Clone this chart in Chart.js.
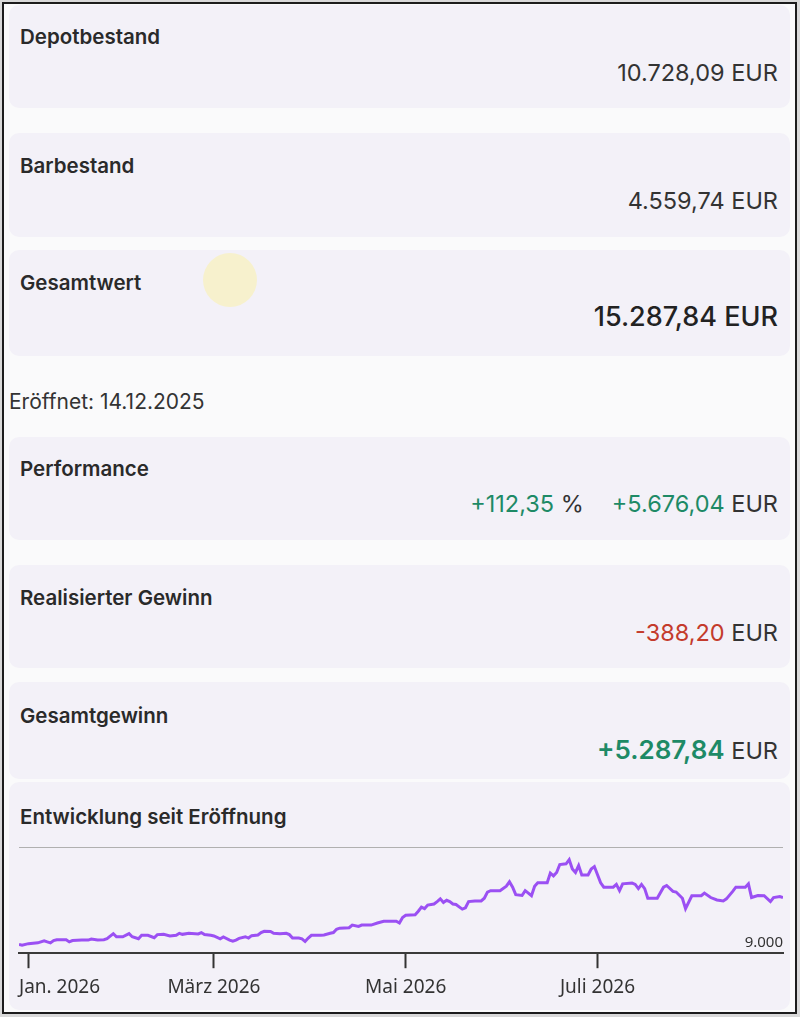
<!DOCTYPE html>
<html lang="de">
<head>
<meta charset="utf-8">
<title>Depot</title>
<script src="https://cdn.jsdelivr.net/npm/chart.js@4.4.1/dist/chart.umd.min.js"></script>
<style>
  html, body { margin: 0; padding: 0; }
  body {
    width: 800px; height: 1017px; position: relative; overflow: hidden;
    background: #d9d9d9;
    font-family: Inter, "Noto Sans", sans-serif; color: #2b2b2b;
  }
  .rahmen {
    position: absolute; left: 2px; top: 2px; width: 791px; height: 1008px;
    border: 2px solid #1c1c1c; background: #fafafb;
  }
  .karte {
    position: absolute; left: 9px; width: 781px;
    background: #f3f1f8; border-radius: 10px;
  }
  .titel {
    position: absolute; left: 20px; height: 24px; line-height: 24px;
    font-size: 20.5px; font-weight: 600; color: #2a2a2a; white-space: nowrap;
  }
  .wert {
    position: absolute; right: 22px; height: 30px; line-height: 30px;
    font-size: 23.5px; font-weight: 400; color: #333; white-space: nowrap;
  }
  .gross { font-size: 27px; font-weight: 500; color: #222; }
  .plus { color: #1e8a66; }
  .minus { color: #c43b2c; }
  .fett { font-weight: 600; font-size: 26px; }
  .info {
    position: absolute; left: 9px; top: 390px; height: 24px; line-height: 24px;
    font-size: 21px; color: #333;
  }
  .cursor {
    position: absolute; left: 203px; top: 253px; width: 54px; height: 54px;
    border-radius: 50%; background: #f7f1cd;
  }
  .diagramm { position: absolute; left: 9px; top: 840px; width: 781px; height: 170px; }
</style>
</head>
<body>
<div class="rahmen"></div>

<div class="karte" style="top:5px;height:103px"></div>
<div class="karte" style="top:133px;height:104px"></div>
<div class="karte" style="top:250px;height:106px"></div>
<div class="karte" style="top:437px;height:103px"></div>
<div class="karte" style="top:565px;height:103px"></div>
<div class="karte" style="top:682px;height:97px"></div>
<div class="karte" style="top:782px;height:228px"></div>

<div class="cursor"></div>

<div class="titel" style="top:25px">Depotbestand</div>
<div class="wert" style="top:58px">10.728,09 EUR</div>

<div class="titel" style="top:154px">Barbestand</div>
<div class="wert" style="top:186px">4.559,74 EUR</div>

<div class="titel" style="top:271px">Gesamtwert</div>
<div class="wert gross" style="top:302px">15.287,84 EUR</div>

<div class="info">Eröffnet: 14.12.2025</div>

<div class="titel" style="top:457px">Performance</div>
<div class="wert" style="top:489px"><span class="plus">+112,35</span> %<span class="plus" style="margin-left:28px">+5.676,04</span> EUR</div>

<div class="titel" style="top:586px">Realisierter Gewinn</div>
<div class="wert" style="top:618px"><span class="minus">-388,20</span> EUR</div>

<div class="titel" style="top:704px">Gesamtgewinn</div>
<div class="wert" style="top:735px"><span class="plus fett">+5.287,84</span> EUR</div>

<div class="titel" style="top:805px">Entwicklung seit Eröffnung</div>

<div class="diagramm"><canvas id="verlauf"></canvas></div>

<script>
// Tage seit 1. Januar 2026 und Depotwert in EUR
const tage = [
  -3, -2, 0, 3, 5, 6, 7, 8, 9, 12,
  13, 14, 17, 19, 20, 22, 24, 25, 27, 28,
  30, 32, 33, 35, 36, 38, 40, 41, 43, 45,
  47, 48, 49, 51, 54, 55, 56, 58, 59, 61,
  62, 64, 65, 66, 67, 69, 70, 71, 73, 74,
  75, 77, 78, 80, 82, 83, 84, 86, 87, 88,
  89, 90, 93, 94, 96, 97, 98, 99, 102, 103,
  105, 106, 109, 111, 113, 117, 118, 119, 120, 123,
  124, 125, 126, 127, 129, 130, 131, 132, 133, 134,
  135, 136, 137, 138, 139, 140, 142, 144, 145, 146,
  147, 150, 152, 153, 154, 155, 157, 158, 159, 160,
  161, 162, 165, 166, 167, 168, 169, 171, 172, 173,
  174, 175, 176, 178, 179, 180, 182, 183, 186, 187,
  188, 189, 192, 193, 194, 195, 196, 197, 198, 200,
  202, 203, 205, 206, 208, 209, 211, 214, 215, 217,
  219, 221, 222, 224, 225, 228, 229, 230, 232, 234,
  236, 237, 239, 240
];
const depotwerte = [
  10000, 9900, 10080, 10170, 10400, 10280, 10170, 10430, 10520, 10520,
  10280, 10430, 10480, 10480, 10600, 10480, 10520, 10630, 11210, 10860,
  10860, 11210, 10860, 10630, 11020, 11020, 10750, 11100, 11130, 10950,
  11020, 11250, 11130, 11250, 11180, 11330, 11100, 11020, 10950, 10630,
  10830, 10480, 10360, 10480, 10670, 10860, 10710, 10980, 11060, 11330,
  11480, 11450, 11250, 11210, 11250, 11100, 10710, 10710, 10630, 10320,
  10710, 11020, 11020, 11060, 11250, 11330, 11710, 11830, 11880, 12180,
  12030, 12180, 12180, 12410, 12610, 12610, 12410, 13040, 13280, 13350,
  13740, 14210, 14040, 14440, 14560, 14830, 15140, 14740, 14980, 14830,
  14560, 14510, 14240, 13980, 14130, 14830, 14910, 14910, 15210, 15910,
  16070, 16070, 16570, 17070, 16460, 15610, 15520, 16070, 15790, 15490,
  16570, 16960, 16960, 18050, 17740, 18120, 19020, 19100, 19570, 18520,
  18120, 18900, 17850, 17850, 18520, 18790, 16960, 16460, 16460, 16770,
  16070, 16840, 16920, 16770, 16300, 16770, 16300, 15210, 15210, 15210,
  16460, 16650, 15990, 15910, 15210, 14040, 15490, 15490, 15790, 15290,
  15020, 14910, 15140, 15990, 16460, 16460, 16840, 15290, 15520, 15490,
  14830, 15290, 15410, 15287.84
];
const monatsTage = [0, 59, 120, 181];
const monatsLabels = ['Jan. 2026', 'März 2026', 'Mai 2026', 'Juli 2026'];
const wertMin = 9000;
const wertMax = 21000;

function formatiereZahl(v) {
    return String(v).replace(/\B(?=(\d{3})+(?!\d))/g, '.');
}

// erstes Monatslabel linksbündig an den Diagrammrand setzen
const erstesLabel = {
    id: 'erstesLabel',
    afterDraw(chart) {
        const skala = chart.scales.x;
        const ctx = chart.ctx;
        ctx.save();
        ctx.font = '19px "Noto Sans"';
        ctx.fillStyle = '#333';
        ctx.textAlign = 'left';
        ctx.textBaseline = 'middle';
        ctx.fillText(monatsLabels[0], chart.chartArea.left, skala.top + 15 + 8 + 11.4);
        ctx.restore();
    }
};

new Chart(document.getElementById('verlauf'), {
    type: 'line',
    data: {
        datasets: [{
            data: tage.map((t, i) => ({ x: t, y: depotwerte[i] })),
            borderColor: '#9b50f3',
            borderWidth: 3,
            pointRadius: 0,
            tension: 0,
            fill: false
        }]
    },
    options: {
        responsive: true,
        maintainAspectRatio: false,
        animation: false,
        layout: { padding: { left: 10, right: 7, top: 7, bottom: 3 } },
        plugins: { legend: { display: false }, tooltip: { enabled: false } },
        scales: {
            x: {
                type: 'linear',
                min: -3,
                max: 240,
                afterBuildTicks: (skala) => {
                    skala.ticks = monatsTage.map(t => ({ value: t }));
                },
                afterFit: (skala) => { skala.paddingLeft = 0; skala.paddingRight = 0; },
                ticks: {
                    autoSkip: false,
                    maxRotation: 0,
                    padding: 8,
                    font: { family: 'Noto Sans', size: 19 },
                    color: (c) => c.index === 0 ? 'rgba(0,0,0,0)' : '#333',
                    callback: (v) => monatsLabels[monatsTage.indexOf(v)]
                },
                grid: {
                    drawOnChartArea: false,
                    drawTicks: true,
                    tickLength: 15,
                    tickColor: '#333',
                    tickWidth: 2
                },
                border: { color: '#3a3a3a', width: 2 }
            },
            y: {
                position: 'right',
                min: wertMin,
                max: wertMax,
                afterFit: (skala) => { skala.paddingTop = 0; skala.paddingBottom = 0; },
                ticks: {
                    stepSize: wertMax - wertMin,
                    mirror: true,
                    padding: 0,
                    labelOffset: -10,
                    font: { family: 'Noto Sans', size: 15 },
                    color: '#333',
                    callback: (v) => v === wertMin ? formatiereZahl(v) : ''
                },
                grid: { color: '#b0b0b0', lineWidth: 1, drawTicks: false },
                border: { display: false }
            }
        }
    },
    plugins: [erstesLabel]
});
</script>
</body>
</html>
